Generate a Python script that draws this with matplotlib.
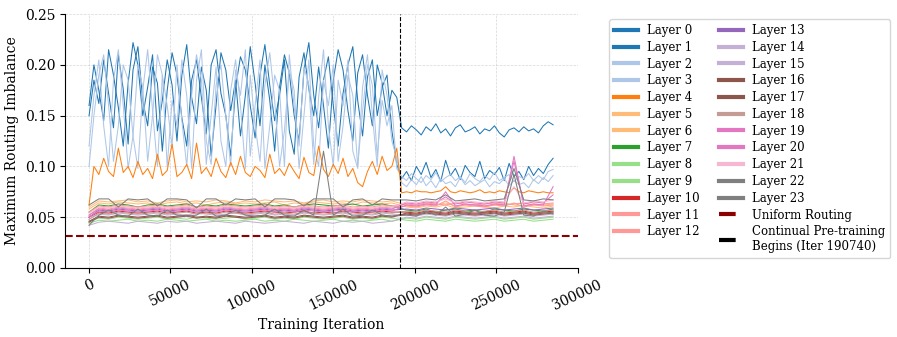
import numpy as np
import matplotlib
matplotlib.use("Agg")
import matplotlib.pyplot as plt

plt.rcParams['font.family'] = ['DejaVu Serif']

# iteration grids (blue/orange layers sampled finer than the flat ones)
iters_hi = np.concatenate([np.arange(0, 190000, 3000), np.arange(192000, 286000, 3000)])
iters_lo = np.concatenate([np.arange(0, 190000, 6000), np.arange(195000, 286000, 6000)])
cpt_start = 190740
uniform = 1 / 32

layer0 = [0.150, 0.185, 0.162, 0.205, 0.172, 0.138, 0.210, 0.176, 0.122, 0.195, 0.218, 0.165, 0.140, 0.198, 0.182, 0.115,
          0.175, 0.212, 0.190, 0.148, 0.120, 0.185, 0.205, 0.168, 0.132, 0.200, 0.215, 0.172, 0.150, 0.110, 0.178, 0.208,
          0.195, 0.160, 0.128, 0.190, 0.220, 0.180, 0.145, 0.170, 0.205, 0.135, 0.112, 0.188, 0.212, 0.176, 0.150, 0.198,
          0.160, 0.118, 0.185, 0.215, 0.195, 0.155, 0.125, 0.192, 0.210, 0.170, 0.140, 0.200, 0.182, 0.150, 0.175, 0.168,
          0.138, 0.134, 0.140, 0.136, 0.131, 0.139, 0.135, 0.142, 0.133, 0.137, 0.130, 0.138, 0.141, 0.134, 0.136, 0.139,
          0.132, 0.137, 0.135, 0.140, 0.133, 0.129, 0.136, 0.138, 0.134, 0.139, 0.135, 0.137, 0.133, 0.140, 0.144, 0.141]
layer1 = [0.160, 0.200, 0.175, 0.145, 0.215, 0.190, 0.158, 0.120, 0.182, 0.222, 0.200, 0.150, 0.178, 0.210, 0.135, 0.165,
          0.205, 0.180, 0.125, 0.190, 0.220, 0.168, 0.142, 0.198, 0.175, 0.110, 0.160, 0.212, 0.195, 0.155, 0.185, 0.130,
          0.170, 0.218, 0.182, 0.140, 0.200, 0.165, 0.115, 0.178, 0.210, 0.192, 0.150, 0.125, 0.195, 0.222, 0.170, 0.138,
          0.185, 0.208, 0.160, 0.120, 0.172, 0.200, 0.218, 0.165, 0.130, 0.188, 0.205, 0.150, 0.178, 0.190, 0.135, 0.102,
          0.088, 0.095, 0.086, 0.100, 0.092, 0.104, 0.089, 0.097, 0.085, 0.106, 0.091, 0.098, 0.087, 0.101, 0.094, 0.090,
          0.105, 0.088, 0.096, 0.092, 0.099, 0.086, 0.103, 0.090, 0.095, 0.087, 0.100, 0.091, 0.098, 0.093, 0.102, 0.108]
layer2 = [0.120, 0.170, 0.205, 0.140, 0.100, 0.185, 0.215, 0.160, 0.098, 0.130, 0.200, 0.178, 0.105, 0.150, 0.210, 0.190,
          0.100, 0.165, 0.140, 0.205, 0.170, 0.098, 0.185, 0.215, 0.125, 0.102, 0.180, 0.200, 0.150, 0.100, 0.195, 0.170,
          0.215, 0.110, 0.160, 0.205, 0.098, 0.140, 0.190, 0.175, 0.100, 0.210, 0.158, 0.120, 0.198, 0.180, 0.102, 0.168,
          0.215, 0.140, 0.100, 0.185, 0.160, 0.205, 0.115, 0.098, 0.178, 0.210, 0.150, 0.100, 0.195, 0.170, 0.125, 0.108,
          0.084, 0.080, 0.087, 0.082, 0.090, 0.081, 0.086, 0.079, 0.088, 0.083, 0.085, 0.080, 0.089, 0.082, 0.086, 0.081,
          0.084, 0.087, 0.080, 0.085, 0.083, 0.088, 0.081, 0.086, 0.082, 0.084, 0.079, 0.087, 0.083, 0.089, 0.085, 0.091]
layer3 = [0.100, 0.150, 0.190, 0.210, 0.160, 0.105, 0.140, 0.200, 0.185, 0.130, 0.098, 0.175, 0.215, 0.155, 0.100, 0.190,
          0.160, 0.120, 0.200, 0.145, 0.100, 0.170, 0.210, 0.185, 0.102, 0.150, 0.198, 0.125, 0.100, 0.175, 0.205, 0.160,
          0.098, 0.190, 0.140, 0.105, 0.180, 0.212, 0.165, 0.100, 0.135, 0.195, 0.175, 0.098, 0.150, 0.205, 0.120, 0.100,
          0.185, 0.160, 0.200, 0.105, 0.140, 0.190, 0.170, 0.100, 0.155, 0.200, 0.180, 0.110, 0.165, 0.140, 0.160, 0.098,
          0.090, 0.086, 0.093, 0.088, 0.084, 0.091, 0.087, 0.094, 0.085, 0.089, 0.092, 0.086, 0.090, 0.084, 0.093, 0.088,
          0.085, 0.091, 0.087, 0.094, 0.086, 0.089, 0.092, 0.085, 0.090, 0.088, 0.093, 0.086, 0.091, 0.087, 0.095, 0.097]
layer4 = [0.062, 0.100, 0.092, 0.108, 0.095, 0.090, 0.118, 0.094, 0.100, 0.089, 0.105, 0.092, 0.098, 0.088, 0.112, 0.091,
          0.096, 0.122, 0.090, 0.094, 0.102, 0.088, 0.123, 0.093, 0.099, 0.090, 0.108, 0.095, 0.089, 0.104, 0.092, 0.110,
          0.094, 0.090, 0.100, 0.096, 0.089, 0.112, 0.093, 0.098, 0.091, 0.103, 0.095, 0.088, 0.109, 0.094, 0.091, 0.120,
          0.097, 0.090, 0.102, 0.093, 0.108, 0.090, 0.098, 0.084, 0.080, 0.095, 0.105, 0.092, 0.110, 0.096, 0.100, 0.118,
          0.074, 0.075, 0.074, 0.076, 0.075, 0.075, 0.074, 0.075, 0.076, 0.080, 0.075, 0.074, 0.076, 0.075, 0.074, 0.075,
          0.077, 0.074, 0.075, 0.074, 0.076, 0.075, 0.074, 0.079, 0.075, 0.074, 0.076, 0.075, 0.074, 0.075, 0.074, 0.074]

layer5 = [0.060, 0.066, 0.065, 0.066, 0.067, 0.065, 0.066, 0.064, 0.066, 0.067, 0.065, 0.066, 0.065, 0.067, 0.066, 0.064,
          0.066, 0.065, 0.067, 0.066, 0.065, 0.066, 0.064, 0.066, 0.067, 0.065, 0.066, 0.065, 0.067, 0.066, 0.065, 0.066,
          0.062, 0.061, 0.063, 0.062, 0.064, 0.061, 0.062, 0.063, 0.061, 0.062, 0.064, 0.062, 0.061, 0.063, 0.062, 0.063]
layer6 = [0.058, 0.064, 0.063, 0.065, 0.064, 0.063, 0.064, 0.062, 0.064, 0.065, 0.063, 0.064, 0.062, 0.064, 0.065, 0.063,
          0.064, 0.063, 0.064, 0.065, 0.062, 0.064, 0.063, 0.065, 0.064, 0.063, 0.064, 0.062, 0.065, 0.064, 0.063, 0.064,
          0.060, 0.059, 0.061, 0.060, 0.062, 0.059, 0.060, 0.061, 0.060, 0.059, 0.061, 0.060, 0.062, 0.060, 0.059, 0.061]
layer7 = [0.055, 0.062, 0.061, 0.063, 0.062, 0.060, 0.062, 0.063, 0.061, 0.062, 0.063, 0.060, 0.062, 0.061, 0.063, 0.062,
          0.061, 0.062, 0.063, 0.061, 0.062, 0.060, 0.062, 0.063, 0.062, 0.061, 0.062, 0.063, 0.061, 0.062, 0.063, 0.061,
          0.057, 0.056, 0.058, 0.055, 0.057, 0.058, 0.056, 0.057, 0.055, 0.058, 0.057, 0.056, 0.058, 0.057, 0.056, 0.058]
layer8 = [0.046, 0.049, 0.048, 0.050, 0.049, 0.048, 0.049, 0.050, 0.048, 0.049, 0.048, 0.050, 0.049, 0.048, 0.049, 0.050,
          0.048, 0.049, 0.050, 0.048, 0.049, 0.048, 0.050, 0.049, 0.048, 0.049, 0.050, 0.048, 0.049, 0.048, 0.050, 0.049,
          0.047, 0.046, 0.048, 0.047, 0.046, 0.048, 0.047, 0.046, 0.047, 0.048, 0.046, 0.047, 0.048, 0.046, 0.047, 0.048]
layer9 = [0.044, 0.047, 0.046, 0.047, 0.048, 0.046, 0.047, 0.046, 0.048, 0.047, 0.046, 0.047, 0.048, 0.046, 0.047, 0.046,
          0.047, 0.048, 0.046, 0.047, 0.046, 0.048, 0.047, 0.046, 0.047, 0.048, 0.046, 0.047, 0.046, 0.047, 0.048, 0.046,
          0.049, 0.048, 0.050, 0.049, 0.048, 0.050, 0.049, 0.048, 0.049, 0.050, 0.048, 0.049, 0.050, 0.048, 0.049, 0.050]
layer10 = [0.050, 0.055, 0.054, 0.056, 0.055, 0.054, 0.055, 0.056, 0.054, 0.055, 0.056, 0.054, 0.055, 0.054, 0.056, 0.055,
           0.054, 0.055, 0.056, 0.055, 0.054, 0.055, 0.056, 0.054, 0.055, 0.054, 0.056, 0.055, 0.054, 0.055, 0.056, 0.055,
           0.055, 0.054, 0.056, 0.055, 0.054, 0.056, 0.055, 0.054, 0.055, 0.056, 0.054, 0.055, 0.056, 0.054, 0.055, 0.056]
layer11 = [0.052, 0.059, 0.058, 0.060, 0.059, 0.058, 0.059, 0.060, 0.058, 0.059, 0.060, 0.058, 0.059, 0.058, 0.060, 0.059,
           0.058, 0.059, 0.060, 0.058, 0.059, 0.058, 0.060, 0.059, 0.058, 0.059, 0.060, 0.058, 0.059, 0.058, 0.060, 0.059,
           0.061, 0.060, 0.062, 0.061, 0.066, 0.060, 0.062, 0.061, 0.060, 0.062, 0.061, 0.064, 0.060, 0.062, 0.061, 0.062]
layer12 = [0.055, 0.061, 0.060, 0.062, 0.061, 0.060, 0.061, 0.062, 0.060, 0.061, 0.062, 0.060, 0.061, 0.060, 0.062, 0.061,
           0.060, 0.061, 0.062, 0.060, 0.061, 0.060, 0.062, 0.061, 0.060, 0.061, 0.062, 0.060, 0.061, 0.060, 0.062, 0.061,
           0.063, 0.062, 0.064, 0.063, 0.062, 0.064, 0.063, 0.062, 0.063, 0.064, 0.062, 0.063, 0.064, 0.062, 0.063, 0.064]
layer13 = [0.050, 0.057, 0.056, 0.058, 0.057, 0.056, 0.057, 0.058, 0.056, 0.057, 0.058, 0.056, 0.057, 0.056, 0.058, 0.057,
           0.056, 0.057, 0.058, 0.056, 0.057, 0.056, 0.058, 0.057, 0.056, 0.057, 0.058, 0.056, 0.057, 0.056, 0.058, 0.057,
           0.058, 0.057, 0.059, 0.058, 0.057, 0.059, 0.058, 0.057, 0.058, 0.059, 0.057, 0.058, 0.059, 0.057, 0.058, 0.059]
layer14 = [0.042, 0.045, 0.046, 0.045, 0.044, 0.046, 0.045, 0.044, 0.046, 0.045, 0.046, 0.044, 0.045, 0.046, 0.045, 0.044,
           0.046, 0.045, 0.044, 0.045, 0.046, 0.045, 0.044, 0.046, 0.045, 0.044, 0.046, 0.045, 0.046, 0.044, 0.045, 0.046,
           0.050, 0.049, 0.051, 0.050, 0.049, 0.051, 0.050, 0.049, 0.050, 0.051, 0.049, 0.050, 0.051, 0.049, 0.050, 0.051]
layer15 = [0.048, 0.053, 0.052, 0.054, 0.053, 0.052, 0.053, 0.054, 0.052, 0.053, 0.052, 0.054, 0.053, 0.052, 0.053, 0.054,
           0.052, 0.053, 0.054, 0.052, 0.053, 0.052, 0.054, 0.053, 0.052, 0.053, 0.054, 0.052, 0.053, 0.052, 0.054, 0.053,
           0.052, 0.051, 0.053, 0.052, 0.051, 0.053, 0.052, 0.051, 0.052, 0.053, 0.051, 0.052, 0.053, 0.051, 0.052, 0.053]
layer16 = [0.046, 0.051, 0.050, 0.052, 0.051, 0.050, 0.051, 0.052, 0.050, 0.051, 0.052, 0.050, 0.051, 0.050, 0.052, 0.051,
           0.050, 0.051, 0.052, 0.050, 0.051, 0.050, 0.052, 0.051, 0.050, 0.051, 0.052, 0.050, 0.051, 0.050, 0.052, 0.051,
           0.053, 0.052, 0.054, 0.053, 0.052, 0.054, 0.053, 0.052, 0.053, 0.054, 0.052, 0.053, 0.054, 0.052, 0.053, 0.054]
layer17 = [0.045, 0.050, 0.049, 0.051, 0.050, 0.049, 0.050, 0.051, 0.049, 0.050, 0.051, 0.049, 0.050, 0.049, 0.051, 0.050,
           0.049, 0.050, 0.051, 0.049, 0.050, 0.049, 0.051, 0.050, 0.049, 0.050, 0.051, 0.049, 0.050, 0.049, 0.051, 0.050,
           0.054, 0.053, 0.055, 0.054, 0.053, 0.055, 0.054, 0.053, 0.054, 0.055, 0.053, 0.054, 0.055, 0.053, 0.054, 0.055]
layer18 = [0.048, 0.054, 0.053, 0.055, 0.054, 0.053, 0.054, 0.055, 0.053, 0.054, 0.055, 0.053, 0.054, 0.053, 0.055, 0.054,
           0.053, 0.054, 0.055, 0.053, 0.054, 0.053, 0.055, 0.054, 0.053, 0.054, 0.055, 0.053, 0.054, 0.053, 0.055, 0.054,
           0.056, 0.055, 0.057, 0.056, 0.055, 0.057, 0.056, 0.055, 0.056, 0.057, 0.055, 0.056, 0.057, 0.055, 0.056, 0.057]
layer19 = [0.050, 0.056, 0.055, 0.057, 0.056, 0.055, 0.056, 0.057, 0.055, 0.056, 0.057, 0.055, 0.056, 0.055, 0.057, 0.056,
           0.055, 0.056, 0.057, 0.055, 0.056, 0.055, 0.057, 0.056, 0.055, 0.056, 0.057, 0.055, 0.056, 0.055, 0.057, 0.056,
           0.062, 0.061, 0.063, 0.062, 0.075, 0.061, 0.063, 0.062, 0.061, 0.063, 0.062, 0.110, 0.061, 0.063, 0.062, 0.080]
layer20 = [0.052, 0.058, 0.057, 0.059, 0.058, 0.057, 0.058, 0.059, 0.057, 0.058, 0.059, 0.057, 0.058, 0.057, 0.059, 0.058,
           0.057, 0.058, 0.059, 0.057, 0.058, 0.057, 0.059, 0.058, 0.057, 0.058, 0.059, 0.057, 0.058, 0.057, 0.059, 0.058,
           0.064, 0.063, 0.065, 0.064, 0.070, 0.063, 0.065, 0.064, 0.063, 0.065, 0.064, 0.105, 0.063, 0.065, 0.064, 0.072]
layer21 = [0.054, 0.060, 0.059, 0.061, 0.060, 0.059, 0.060, 0.061, 0.059, 0.060, 0.061, 0.059, 0.060, 0.059, 0.061, 0.060,
           0.059, 0.060, 0.061, 0.059, 0.060, 0.059, 0.061, 0.060, 0.059, 0.060, 0.061, 0.059, 0.060, 0.059, 0.061, 0.060,
           0.065, 0.064, 0.066, 0.065, 0.068, 0.064, 0.066, 0.065, 0.064, 0.066, 0.065, 0.080, 0.064, 0.066, 0.065, 0.067]
layer22 = [0.062, 0.068, 0.068, 0.060, 0.068, 0.067, 0.068, 0.061, 0.068, 0.068, 0.067, 0.059, 0.068, 0.068, 0.062, 0.068,
           0.067, 0.068, 0.060, 0.068, 0.068, 0.067, 0.061, 0.068, 0.068, 0.068, 0.060, 0.067, 0.068, 0.062, 0.068, 0.067,
           0.067, 0.066, 0.068, 0.067, 0.072, 0.066, 0.067, 0.068, 0.066, 0.067, 0.068, 0.098, 0.067, 0.066, 0.068, 0.067]
layer23 = [0.042, 0.052, 0.057, 0.052, 0.051, 0.058, 0.052, 0.051, 0.057, 0.052, 0.051, 0.052, 0.058, 0.051, 0.052, 0.057,
           0.052, 0.051, 0.052, 0.058, 0.052, 0.051, 0.057, 0.052, 0.115, 0.052, 0.058, 0.051, 0.052, 0.057, 0.052, 0.051,
           0.052, 0.051, 0.056, 0.052, 0.060, 0.051, 0.053, 0.057, 0.052, 0.051, 0.055, 0.092, 0.052, 0.051, 0.056, 0.053]

layers = [layer0, layer1, layer2, layer3, layer4, layer5, layer6, layer7, layer8, layer9, layer10, layer11,
          layer12, layer13, layer14, layer15, layer16, layer17, layer18, layer19, layer20, layer21, layer22, layer23]
# tab20 entry used for each layer
color_idx = [0, 0, 1, 1, 2, 3, 3, 4, 5, 5, 6, 7, 7, 8, 9, 9, 10, 10, 11, 12, 12, 13, 14, 14]

fig, ax = plt.subplots(figsize=(8.97, 3.37), dpi=100)
fig.subplots_adjust(left=0.0725, right=0.644, bottom=0.205, top=0.958)

tab20 = plt.cm.tab20.colors
for i, vals in enumerate(layers):
    xs = iters_hi if len(vals) == len(iters_hi) else iters_lo
    ax.plot(xs, vals, color=tab20[color_idx[i]], lw=0.75, label='Layer %d' % i)

ax.axhline(uniform, color='darkred', ls='--', lw=1.5, label='Uniform Routing')
ax.axvline(cpt_start, color='black', ls='--', lw=0.8,
           label='Continual Pre-training\nBegins (Iter %d)' % cpt_start)

ax.set_xlim(-14750, 300100)
ax.set_ylim(0, 0.25)
ax.set_xlabel('Training Iteration', fontsize=10)
ax.set_ylabel('Maximum Routing Imbalance', fontsize=10)
ax.grid(True, linestyle='--', lw=0.5, alpha=0.5)
ax.spines['top'].set_visible(False)
ax.spines['right'].set_visible(False)
plt.setp(ax.get_xticklabels(), rotation=25)

leg = ax.legend(ncol=2, loc='upper left', bbox_to_anchor=(1.062, 0.98), borderaxespad=0,
                fontsize=8.5, columnspacing=1.63, labelspacing=0.32)
for line in leg.get_lines():
    line.set_linewidth(3)
    if line.get_linestyle() == '--':
        line.set_dashes((4, 3))

fig.savefig('out.png', dpi=100)
